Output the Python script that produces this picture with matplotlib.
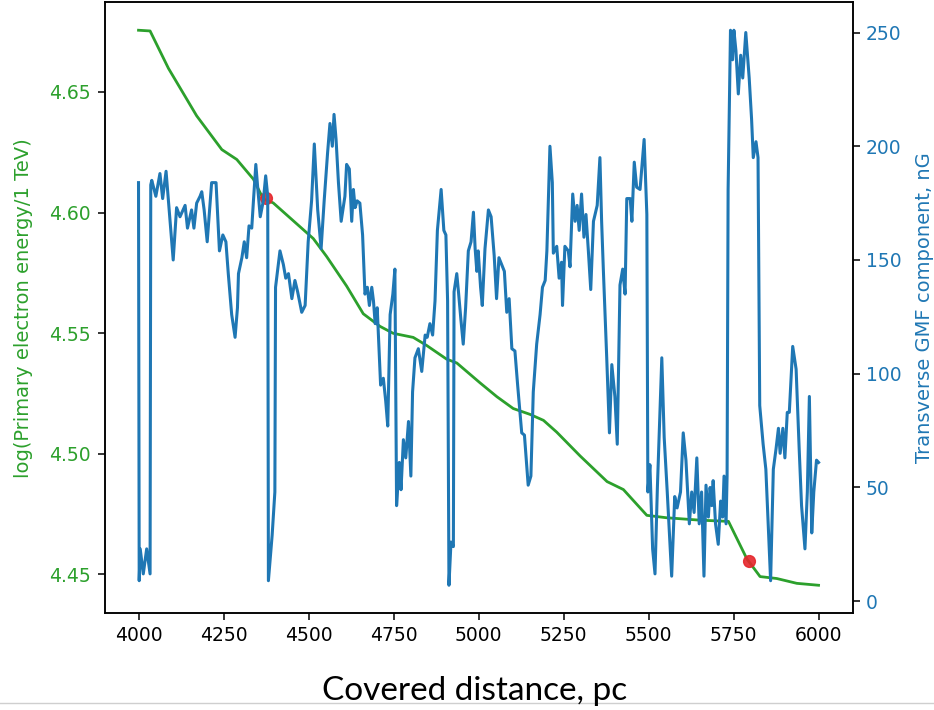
import matplotlib
matplotlib.use("Agg")
import matplotlib.pyplot as plt
from matplotlib.lines import Line2D

# primary electron energy track (left axis)
green_x = [4000, 4034, 4088, 4171, 4245, 4289, 4338, 4367, 4396, 4455, 4514, 4553,
           4612, 4661, 4710, 4749, 4808, 4847, 4906, 4936, 5004, 5054, 5102, 5151,
           5191, 5230, 5299, 5378, 5426, 5495, 5553, 5651, 5735, 5789, 5828, 5877,
           5936, 6000]
green_y = [4.6756, 4.6753, 4.6598, 4.6401, 4.6261, 4.6220, 4.6138, 4.6056, 4.6040,
           4.5966, 4.5892, 4.5818, 4.5695, 4.5580, 4.5528, 4.5499, 4.5482, 4.5449,
           4.5392, 4.5376, 4.5294, 4.5236, 4.5187, 4.5163, 4.5138, 4.5089, 4.4990,
           4.4884, 4.4851, 4.4744, 4.4734, 4.4724, 4.4719, 4.4564, 4.4490, 4.4482,
           4.4462, 4.4454]

# marked points
mark_x = [4375, 5794]
mark_y = [4.6060, 4.4556]

# transverse GMF component (right axis)
blue_x = [4000, 4002, 4005, 4014, 4024, 4034, 4036, 4039, 4051, 4063, 4071, 4081,
          4088, 4102, 4112, 4122, 4137, 4144, 4156, 4163, 4171, 4181, 4186, 4193,
          4202, 4215, 4228, 4238, 4248, 4257, 4264, 4274, 4284, 4291, 4294, 4304,
          4311, 4318, 4325, 4333, 4338, 4345, 4351, 4358, 4367, 4374, 4380, 4382,
          4393, 4401, 4403, 4416, 4426, 4433, 4441, 4451, 4460, 4468, 4480, 4490,
          4499, 4509, 4517, 4527, 4537, 4546, 4556, 4563, 4570, 4575, 4581, 4588,
          4596, 4607, 4612, 4620, 4627, 4632, 4637, 4643, 4651, 4659, 4666, 4673,
          4679, 4686, 4691, 4696, 4702, 4712, 4720, 4727, 4733, 4740, 4748, 4754,
          4759, 4767, 4772, 4779, 4786, 4794, 4801, 4806, 4813, 4823, 4833, 4843,
          4849, 4857, 4865, 4872, 4879, 4890, 4898, 4904, 4909, 4913, 4919, 4926,
          4928, 4936, 4941, 4948, 4955, 4962, 4970, 4978, 4985, 4990, 4995, 4999,
          5006, 5011, 5019, 5029, 5037, 5046, 5053, 5060, 5068, 5076, 5083, 5090,
          5098, 5107, 5115, 5127, 5135, 5146, 5154, 5161, 5171, 5181, 5188, 5196,
          5201, 5210, 5217, 5220, 5230, 5237, 5244, 5247, 5254, 5264, 5269, 5277,
          5284, 5290, 5296, 5303, 5310, 5316, 5323, 5330, 5338, 5349, 5357, 5362,
          5367, 5377, 5385, 5392, 5401, 5408, 5416, 5424, 5431, 5436, 5446, 5451,
          5458, 5465, 5475, 5487, 5495, 5498, 5504, 5512, 5519, 5526, 5539, 5546,
          5555, 5568, 5577, 5584, 5594, 5602, 5610, 5620, 5627, 5634, 5642, 5649,
          5656, 5663, 5669, 5676, 5681, 5686, 5690, 5697, 5705, 5712, 5718, 5722,
          5728, 5731, 5734, 5741, 5747, 5751, 5757, 5764, 5771, 5777, 5786, 5796,
          5803, 5808, 5816, 5822, 5827, 5837, 5845, 5852, 5859, 5867, 5875, 5882,
          5887, 5895, 5901, 5908, 5914, 5924, 5934, 5943, 5950, 5960, 5967, 5973,
          5980, 5986, 5994, 6000]
blue_y = [184, 9, 23, 12, 23, 12, 183, 185, 178, 188, 177, 189,
          176, 150, 173, 169, 174, 164, 172, 164, 175, 178, 180, 172,
          158, 184, 184, 154, 161, 158, 144, 126, 116, 129, 144, 151,
          158, 151, 165, 164, 176, 192, 181, 169, 176, 187, 178, 9,
          29, 48, 138, 154, 148, 142, 144, 133, 141, 136, 127, 130,
          158, 176, 201, 172, 155, 176, 197, 210, 200, 214, 203, 184,
          167, 178, 192, 190, 167, 181, 173, 176, 175, 161, 135, 138,
          130, 138, 132, 122, 129, 95, 98, 88, 77, 126, 135, 146,
          42, 61, 49, 71, 63, 79, 55, 92, 107, 111, 101, 117,
          116, 122, 117, 132, 163, 181, 163, 161, 132, 7, 26, 24,
          136, 144, 136, 124, 113, 129, 154, 158, 171, 155, 145, 154,
          138, 130, 155, 172, 169, 152, 133, 151, 148, 145, 127, 133,
          111, 110, 95, 74, 73, 51, 55, 92, 113, 126, 138, 141,
          154, 200, 184, 153, 156, 142, 149, 130, 156, 154, 147, 179,
          167, 174, 163, 179, 160, 170, 154, 137, 167, 174, 195, 167,
          146, 107, 74, 104, 90, 69, 139, 146, 135, 177, 177, 167,
          193, 182, 181, 203, 170, 48, 60, 23, 12, 50, 107, 72,
          48, 11, 46, 41, 48, 74, 62, 34, 48, 39, 63, 34,
          48, 11, 51, 37, 50, 42, 53, 34, 25, 44, 37, 55,
          34, 55, 181, 251, 238, 251, 242, 223, 240, 230, 250, 230,
          212, 195, 202, 195, 86, 69, 58, 34, 9, 58, 67, 76,
          65, 76, 63, 83, 83, 112, 102, 67, 42, 23, 48, 90,
          30, 48, 62, 61]

green = "#2ca02c"
blue = "#1f77b4"

fig = plt.figure(figsize=(9.34, 7.10), dpi=100)
ax1 = fig.add_axes([0.1119, 0.1366, 0.8009, 0.8599])
ax1.plot(green_x, green_y, color=green, lw=2.0)
ax1.plot(mark_x, mark_y, 'o', color="#e5262b", ms=8.5, alpha=0.9)
ax1.set_ylabel("log(Primary electron energy/1 TeV)", color=green, fontsize=14,
               labelpad=12)
ax1.tick_params(axis='y', labelcolor=green, color='black')

ax2 = ax1.twinx()
ax2.plot(blue_x, blue_y, color=blue, lw=2.2)
ax2.set_ylabel("Transverse GMF component, nG", color=blue, fontsize=14,
               labelpad=10)
ax2.tick_params(axis='y', labelcolor=blue, color='black')

for ax in (ax1, ax2):
    ax.tick_params(labelsize=13.5, length=4.8, width=1.1, pad=4.8)
    for s in ax.spines.values():
        s.set_linewidth(1.1)

ax1.set_xticks([4000, 4250, 4500, 4750, 5000, 5250, 5500, 5750, 6000])
ax1.set_yticks([4.45, 4.50, 4.55, 4.60, 4.65])
ax2.set_yticks([0, 50, 100, 150, 200, 250])

fig.text(0.5086, 0.0141, "Covered distance, pc", family="Lato", fontsize=24,
         ha="center", va="baseline")
fig.add_artist(Line2D([0, 1], [0.0099, 0.0099], transform=fig.transFigure,
                      color="#cfcfcf", lw=1))

fig.savefig("out.png", dpi=100)
